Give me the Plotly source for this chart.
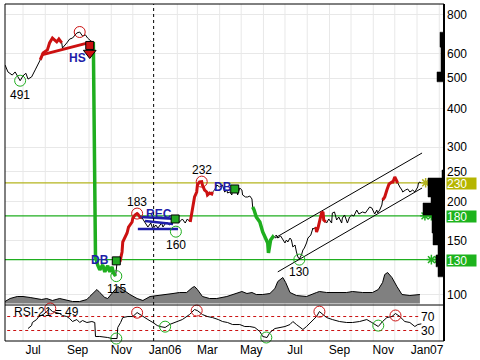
import math
import plotly.graph_objects as go

FONT = "Liberation Sans, Arial, sans-serif"

# ---------------- price series (close) ----------------
price_dates = [
 "2005-06-06","2005-06-10","2005-06-16","2005-06-20","2005-06-24","2005-06-27","2005-07-01","2005-07-05",
 "2005-07-08","2005-07-13","2005-07-18","2005-07-22","2005-07-25","2005-07-29","2005-08-04","2005-08-07",
 "2005-08-11","2005-08-17","2005-08-20","2005-08-24","2005-08-25","2005-08-31","2005-09-04","2005-09-08",
 "2005-09-14","2005-09-18","2005-09-22","2005-09-26","2005-09-29","2005-10-05","2005-10-07","2005-10-10",
 "2005-10-13","2005-10-16","2005-10-20","2005-10-23","2005-10-27","2005-10-30","2005-11-02","2005-11-04",
 "2005-11-07","2005-11-09","2005-11-13","2005-11-16","2005-11-17","2005-11-23","2005-11-25","2005-11-30",
 "2005-12-01","2005-12-04","2005-12-07","2005-12-08","2005-12-11","2005-12-14","2005-12-18","2005-12-22",
 "2005-12-26","2005-12-29","2006-01-02","2006-01-05","2006-01-10","2006-01-12","2006-01-17","2006-01-21",
 "2006-01-26","2006-01-31","2006-02-04","2006-02-08","2006-02-12","2006-02-15","2006-02-19","2006-02-22",
 "2006-02-25","2006-02-28","2006-03-01","2006-03-04","2006-03-07","2006-03-08","2006-03-11","2006-03-14",
 "2006-03-15","2006-03-18","2006-03-21","2006-03-22","2006-03-25","2006-03-28","2006-04-01","2006-04-05",
 "2006-04-08","2006-04-11","2006-04-12","2006-04-15","2006-04-18","2006-04-19","2006-04-22","2006-04-25",
 "2006-04-26","2006-04-29","2006-05-02","2006-05-03","2006-05-07","2006-05-10","2006-05-13","2006-05-16",
 "2006-05-17","2006-05-19","2006-05-22","2006-05-27","2006-05-31","2006-06-03","2006-06-06","2006-06-07",
 "2006-06-08","2006-06-11","2006-06-14","2006-06-15","2006-06-19","2006-06-21","2006-06-25","2006-06-28",
 "2006-07-01","2006-07-03","2006-07-05","2006-07-08","2006-07-10","2006-07-12","2006-07-15","2006-07-17",
 "2006-07-19","2006-07-21","2006-07-24","2006-07-26","2006-07-28","2006-07-31","2006-08-02","2006-08-06",
 "2006-08-09","2006-08-10","2006-08-13","2006-08-14","2006-08-16","2006-08-18","2006-08-21","2006-08-23",
 "2006-08-24","2006-08-27","2006-08-28","2006-08-31","2006-09-04","2006-09-05","2006-09-08","2006-09-11",
 "2006-09-14","2006-09-18","2006-09-19","2006-09-22","2006-09-25","2006-09-26","2006-09-29","2006-10-02",
 "2006-10-05","2006-10-08","2006-10-09","2006-10-12","2006-10-16","2006-10-17","2006-10-21","2006-10-24",
 "2006-10-27","2006-10-30","2006-10-31","2006-11-03","2006-11-06","2006-11-07","2006-11-10","2006-11-13",
 "2006-11-14","2006-11-17","2006-11-20","2006-11-21","2006-11-23","2006-11-27","2006-11-28","2006-12-01",
 "2006-12-04","2006-12-05","2006-12-08","2006-12-11","2006-12-12","2006-12-16","2006-12-19","2006-12-22",
 "2006-12-26","2006-12-29","2007-01-02","2007-01-03","2007-01-05","2007-01-06"]
price_values = [
 552,524,512,524,505,491,509,519,
 497,505,532,552,573,603,617,650,
 674,655,669,650,626,650,669,674,
 700,705,684,690,674,655,655,132.6,
 125.0,120.5,125.0,118.7,124.1,118.7,123.2,117.8,
 115,126.9,127.8,137.6,148.2,158.4,165.6,171.9,
 177.1,181,183,182.4,178.4,177.1,171.9,165.6,
 170.6,163.2,168.1,164.4,170.6,165.6,171.9,168.1,
 171.9,174.5,171.9,175.8,170.6,175.8,171.9,192.2,
 207,214.8,226.3,231.4,232,226.3,218,214.8,
 210.1,213.2,211.6,214.8,218,226.3,223,226.3,
 214.8,218,213.2,214.8,210.1,221.3,219.7,218,
 210.1,221.3,218,210.1,207,207,208.5,204,
 192.2,187.9,178.4,171.9,159.6,153.8,150.4,147.1,
 136.6,150.4,153.8,152.6,156.1,152.6,154.9,150.4,
 147.1,150.4,148.2,152.6,150.4,142.8,144.9,137.6,
 132.6,130.7,134.6,139.6,141.7,147.1,152.6,156.1,
 164.4,163.2,165.6,159.6,164.4,171.9,183.8,185.2,
 174.5,171.9,170.6,175.8,170.6,183.8,185.2,174.5,
 178.4,170.6,177.1,181.1,171.9,170.6,178.4,181.1,
 179.7,185.2,187.9,182.4,183.8,185.2,183.8,187.9,
 192.2,190.8,187.9,182.4,187.9,183.8,187.9,195,
 202.4,207,218,223,228,231.4,229.7,240.2,
 231.4,229.7,223,218,214.8,218,219.7,214.8,
 218,214.8,223,229.7,231.4,229.7]

red_segments = [("2005-07-25", "2005-08-24"), ("2005-11-13", "2005-12-14"),
                ("2006-02-19", "2006-03-22"), ("2006-08-13", "2006-08-27"),
                ("2006-11-14", "2006-12-05")]
green_segments = [("2005-10-07", "2005-11-07"), ("2006-05-17", "2006-06-15")]

# ---------------- volume ----------------
volume_dates = [
 "2005-06-06","2005-06-13","2005-06-23","2005-07-01","2005-07-11","2005-07-20","2005-07-27","2005-08-03",
 "2005-08-11","2005-08-21","2005-08-31","2005-09-08","2005-09-18","2005-09-28","2005-10-02","2005-10-12",
 "2005-10-16","2005-10-23","2005-10-27","2005-11-03","2005-11-10","2005-11-17","2005-11-27","2005-12-07",
 "2005-12-15","2005-12-25","2006-01-08","2006-01-18","2006-01-26","2006-02-04","2006-02-14","2006-02-22",
 "2006-02-25","2006-03-01","2006-03-08","2006-03-18","2006-03-28","2006-04-11","2006-04-25","2006-05-02",
 "2006-05-09","2006-05-16","2006-05-22","2006-05-31","2006-06-10","2006-06-17","2006-06-21","2006-06-28",
 "2006-07-02","2006-07-08","2006-07-17","2006-07-31","2006-08-14","2006-08-18","2006-08-28","2006-09-11",
 "2006-09-25","2006-10-03","2006-10-17","2006-10-31","2006-11-08","2006-11-14","2006-11-17","2006-11-21",
 "2006-11-27","2006-12-04","2006-12-11","2006-12-22","2007-01-05"]
volume_values = [
 2,5,7,7,6,5,4,5,
 3,5,3,2,2,4,7,14,
 11,6,5,11,17,14,9,5,
 3,7,8,9,10,11,11,16,
 17,14,7,5,5,7,10,12,
 10,11,9,9,10,15,22,26,
 21,11,8,7,11,12,11,11,
 11,12,11,11,14,21,29,31,
 26,17,9,8,9]

# ---------------- RSI-21 ----------------
rsi_dates = [
 "2005-07-08","2005-07-13","2005-07-14","2005-07-20","2005-07-23","2005-07-29","2005-08-03","2005-08-07",
 "2005-08-11","2005-08-15","2005-08-21","2005-08-25","2005-08-31","2005-09-04","2005-09-08","2005-09-14",
 "2005-09-18","2005-09-22","2005-09-28","2005-10-05","2005-10-09","2005-10-10","2005-10-16","2005-10-27",
 "2005-11-02","2005-11-09","2005-11-10","2005-11-14","2005-11-17","2005-11-24","2005-12-01","2005-12-07",
 "2005-12-11","2005-12-15","2005-12-22","2005-12-29","2006-01-04","2006-01-08","2006-01-15","2006-01-21",
 "2006-01-31","2006-02-08","2006-02-18","2006-02-25","2006-03-01","2006-03-08","2006-03-15","2006-03-22",
 "2006-03-30","2006-04-05","2006-04-12","2006-04-19","2006-04-29","2006-05-06","2006-05-13","2006-05-20",
 "2006-05-27","2006-05-31","2006-06-06","2006-06-10","2006-06-17","2006-06-24","2006-07-01","2006-07-08",
 "2006-07-12","2006-07-17","2006-07-21","2006-07-26","2006-07-31","2006-08-07","2006-08-14","2006-08-18",
 "2006-08-23","2006-08-28","2006-09-05","2006-09-15","2006-09-25","2006-10-03","2006-10-13","2006-10-23",
 "2006-10-30","2006-11-03","2006-11-08","2006-11-14","2006-11-20","2006-11-27","2006-12-02","2006-12-08",
 "2006-12-15","2006-12-22","2006-12-29","2007-01-02","2007-01-07"]
rsi_values = [
 35.7,44.3,52.9,61.4,70,75.7,84.3,92,
 84.3,81.4,78.6,72.9,70,64.3,55.7,61.4,
 52.9,58.6,52.9,55.7,52.9,12.9,12.9,10,
 7.1,7.1,38.6,52.9,67.1,70,70,81.4,
 75.7,70,61.4,52.9,44.3,41.4,38.6,47.1,
 55.7,61.4,75.7,90,87,75.7,70,67.1,
 61.4,55.7,52.9,47.1,47.1,41.4,41.4,38.6,
 27.1,12.9,10,24.3,35.7,38.6,41.4,47.1,
 55.7,47.1,41.4,32.9,41.4,55.7,70,84.3,
 75.7,67.1,61.4,55.7,52.9,52.9,55.7,61.4,
 52.9,47.1,41.4,55.7,67.1,70,78.6,70,
 55.7,52.9,41.4,47.1,49]
rsi_bands = [70, 30]
rsi_band_dates = ["2005-06-09", "2007-01-05"]
rsi_high_dates = ["2005-08-08", "2005-12-07", "2006-02-28", "2006-08-18", "2006-12-02"]
rsi_high_values = [93, 81, 87, 84, 73]
rsi_low_dates = ["2005-11-08", "2006-01-15", "2006-06-05", "2006-11-08"]
rsi_low_values = [7, 41, 10, 44]

# ---------------- swing points ----------------
swing_high_dates = ["2005-09-18", "2005-12-07", "2006-03-07"]
swing_high_values = [705, 183, 232]
swing_low_dates = ["2005-06-27", "2005-11-08", "2006-01-30", "2006-07-21"]
swing_low_values = [491, 115, 160, 130]
swing_label_dates = ["2005-06-27", "2005-11-08", "2005-12-07", "2006-01-30", "2006-03-07", "2006-07-21"]
swing_label_values = [491, 115, 183, 160, 232, 130]
swing_label_shift = [-14, -13, 12, -13, 12, -12]

# ---------------- support / resistance levels ----------------
levels = [230, 180, 130]
level_colors = ["#b4b41e", "#1fae1f", "#1fae1f"]
level_box_colors = ["#b5b500", "#1db31d", "#1db31d"]
level_star_dates = [["2007-01-13", "2007-01-21", "2007-01-30"],
                    ["2007-01-12", "2007-01-21", "2007-01-30"],
                    ["2007-01-21", "2007-01-30"]]

# ---------------- volume-at-price profile ----------------
vp_low = [114.4, 123.2, 134.6, 145, 158.4, 181, 198, 207, 238.4, 487, 524, 630]
vp_high = [123.2, 134.6, 145, 158.4, 181, 198, 207, 238.4, 253, 524, 630, 704]
vp_volume = [6, 8, 6, 11, 12, 21, 13, 16, 2, 7, 3, 4]

# ---------------- pattern drawings ----------------
channel_upper = (["2006-06-17", "2007-01-08"], [152.6, 287])
channel_lower = (["2006-06-21", "2007-01-08"], [118.7, 221.3])
hs_neckline = (["2005-07-27", "2005-10-05"], [595, 655])
rec_lines = [(["2005-12-11", "2006-02-02"], [178.4, 175.8]),
             (["2005-12-18", "2006-01-26"], [173.2, 169.4]),
             (["2005-12-08", "2006-02-02"], [163.2, 163.2])]
breakout_dates = ["2005-11-08", "2006-01-29", "2006-04-22"]
breakout_values = [128.8, 175.8, 219.7]
hs_arrow_date = "2005-10-02"
hs_arrow_values = [638, 603]
pattern_names = ["HS", "DB", "REC", "DB"]
pattern_dates = ["2005-09-15", "2005-10-16", "2006-01-06", "2006-04-05"]
pattern_values = [581, 129.7, 182.4, 223]

month_tick_dates = ["2005-07-15", "2005-09-15", "2005-11-15", "2006-01-15", "2006-03-15",
                    "2006-05-15", "2006-07-15", "2006-09-15", "2006-11-15", "2007-01-15"]
month_tick_text = ["Jul", "Sep", "Nov", "Jan06", "Mar", "May", "Jul", "Sep", "Nov", "Jan07"]
month_grid_dates = ["2005-07-01", "2005-08-01", "2005-09-01", "2005-10-01", "2005-11-01",
                    "2005-12-01", "2006-02-01", "2006-03-01", "2006-04-01", "2006-05-01",
                    "2006-06-01", "2006-07-01", "2006-08-01", "2006-09-01", "2006-10-01",
                    "2006-11-01", "2006-12-01", "2007-01-01", "2007-02-01"]
price_ticks = [100, 150, 200, 250, 300, 400, 500, 600, 800]

X_RANGE = ["2005-06-05 22:00", "2007-02-07 14:00"]
RED = "#cc1111"
GREEN = "#1fae1f"
BLUE = "#1e1ea8"

fig = go.Figure()

# volume area (bottom of price panel)
fig.add_trace(go.Scatter(x=volume_dates, y=volume_values, xaxis="x", yaxis="y3",
                         mode="lines", line=dict(color="black", width=1),
                         fill="tozeroy", fillcolor="#808080", hoverinfo="skip"))

# level lines
for lv, col in zip(levels, level_colors):
    fig.add_trace(go.Scatter(x=["2005-05-01", "2007-03-01"], y=[lv, lv], mode="lines",
                             line=dict(color=col, width=1.3), xaxis="x", yaxis="y"))

# volume-at-price profile
vx, vy = [0], [vp_low[0]]
for i in range(len(vp_low)):
    if i > 0 and abs(vp_low[i] - vp_high[i - 1]) > 1e-6:
        vx += [0, 0]
        vy += [vp_high[i - 1], vp_low[i]]
    vx += [vp_volume[i], vp_volume[i]]
    vy += [vp_low[i], vp_high[i]]
vx.append(0)
vy.append(vp_high[-1])
fig.add_trace(go.Scatter(x=vx, y=vy, xaxis="x2", yaxis="y", mode="lines",
                         line=dict(color="black", width=0.5), fill="toself", fillcolor="black"))

# channel
for xs, ys in (channel_upper, channel_lower):
    fig.add_trace(go.Scatter(x=xs, y=ys, mode="lines", line=dict(color="black", width=1)))

# price line
fig.add_trace(go.Scatter(x=price_dates, y=price_values, mode="lines",
                         line=dict(color="black", width=1)))

def segment(start, end):
    xs, ys = [], []
    for d, v in zip(price_dates, price_values):
        if start <= d <= end:
            xs.append(d)
            ys.append(v)
    return xs, ys

for s, e in red_segments:
    xs, ys = segment(s, e)
    fig.add_trace(go.Scatter(x=xs, y=ys, mode="lines", line=dict(color=RED, width=3)))
for s, e in green_segments:
    xs, ys = segment(s, e)
    fig.add_trace(go.Scatter(x=xs, y=ys, mode="lines", line=dict(color=GREEN, width=3.5)))

# HS neckline and arrow
fig.add_trace(go.Scatter(x=hs_neckline[0], y=hs_neckline[1], mode="lines",
                         line=dict(color=RED, width=3)))
fig.add_trace(go.Scatter(x=[hs_arrow_date], y=[hs_arrow_values[0]], mode="markers",
                         marker=dict(symbol="square", size=8, color=RED,
                                     line=dict(color="black", width=1))))
fig.add_trace(go.Scatter(x=[hs_arrow_date], y=[hs_arrow_values[1]], mode="markers",
                         marker=dict(symbol="triangle-down", size=11, color=RED,
                                     line=dict(color="black", width=1))))

# rectangle pattern lines
for xs, ys in rec_lines:
    fig.add_trace(go.Scatter(x=xs, y=ys, mode="lines", line=dict(color=BLUE, width=2.5)))

# breakout squares
fig.add_trace(go.Scatter(x=breakout_dates, y=breakout_values, mode="markers",
                         marker=dict(symbol="square", size=8, color="#22a822",
                                     line=dict(color="black", width=1))))

# swing circles
fig.add_trace(go.Scatter(x=swing_high_dates, y=swing_high_values, mode="markers",
                         marker=dict(symbol="circle-open", size=11, color=RED,
                                     line=dict(width=1))))
fig.add_trace(go.Scatter(x=swing_low_dates, y=swing_low_values, mode="markers",
                         marker=dict(symbol="circle-open", size=11, color=GREEN,
                                     line=dict(width=1))))

# level stars
for lv, col, ds in zip(levels, level_colors, level_star_dates):
    fig.add_trace(go.Scatter(x=ds, y=[lv] * len(ds), mode="markers", cliponaxis=False,
                             marker=dict(symbol="asterisk-open", size=8, color=col,
                                         line=dict(color=col, width=1.5))))

# RSI panel
for b in rsi_bands:
    fig.add_trace(go.Scatter(x=rsi_band_dates, y=[b, b], xaxis="x", yaxis="y2", mode="lines",
                             line=dict(color=RED, width=1, dash="dot")))
fig.add_trace(go.Scatter(x=rsi_dates, y=rsi_values, xaxis="x", yaxis="y2", mode="lines",
                         line=dict(color="black", width=1)))
fig.add_trace(go.Scatter(x=rsi_high_dates, y=rsi_high_values, xaxis="x", yaxis="y2",
                         mode="markers", cliponaxis=False,
                         marker=dict(symbol="circle-open", size=11, color=RED, line=dict(width=1))))
fig.add_trace(go.Scatter(x=rsi_low_dates, y=rsi_low_values, xaxis="x", yaxis="y2",
                         mode="markers", cliponaxis=False,
                         marker=dict(symbol="circle-open", size=11, color=GREEN, line=dict(width=1))))

annotations = []
for d, v, sh in zip(swing_label_dates, swing_label_values, swing_label_shift):
    annotations.append(dict(x=d, y=math.log10(v), xref="x", yref="y", text=str(v),
                            showarrow=False, yshift=sh, font=dict(size=12, color="black")))
for name, d, v in zip(pattern_names, pattern_dates, pattern_values):
    annotations.append(dict(x=d, y=math.log10(v), xref="x", yref="y", text="<b>%s</b>" % name,
                            showarrow=False, font=dict(size=12, color=BLUE)))
for lv, bc in zip(levels, level_box_colors):
    annotations.append(dict(x=1, y=math.log10(lv), xref="paper", yref="y", text=str(lv),
                            showarrow=False, xanchor="left", xshift=2, yshift=-1, bgcolor=bc,
                            width=29, height=11, align="left", borderpad=0,
                            font=dict(size=12, color="white")))
for b in rsi_bands:
    annotations.append(dict(x=1, y=b, xref="paper", yref="y2", text=str(b), showarrow=False,
                            xanchor="right", xshift=-7, font=dict(size=12, color="black")))
annotations.append(dict(x=0.016, y=84, xref="paper", yref="y2",
                        text="RSI-21 = %d" % round(rsi_values[-1]), showarrow=False,
                        xanchor="left", font=dict(size=12, color="black")))

SPLIT = 36 / 337.0
shapes = []
for g in month_grid_dates:
    shapes.append(dict(type="line", xref="x", yref="paper", x0=g, x1=g, y0=0, y1=1,
                       layer="below", line=dict(color="#e8e8e8", width=1)))
shapes += [
    dict(type="rect", xref="paper", yref="paper", x0=0, x1=1, y0=0, y1=1,
         line=dict(color="black", width=1)),
    dict(type="line", xref="paper", yref="paper", x0=0, x1=1, y0=SPLIT, y1=SPLIT,
         line=dict(color="black", width=1)),
    dict(type="line", xref="paper", yref="paper", x0=1, x1=1, y0=0, y1=1,
         line=dict(color="black", width=2)),
    dict(type="line", xref="x", yref="paper", x0="2005-12-30", x1="2005-12-30", y0=0, y1=1,
         line=dict(color="black", width=1, dash="dot")),
]

fig.update_layout(
    width=480, height=360, margin=dict(l=5, r=36, t=4, b=19),
    paper_bgcolor="white", plot_bgcolor="white", showlegend=False,
    font=dict(family=FONT, size=12, color="black"),
    xaxis=dict(type="date", range=X_RANGE, domain=[0, 1], anchor="y2",
               tickvals=month_tick_dates, ticktext=month_tick_text, showgrid=False,
               ticks="", zeroline=False, showline=False),
    xaxis2=dict(overlaying="x", range=[439, 0], visible=False),
    yaxis=dict(type="log", domain=[SPLIT, 1], anchor="x", side="right",
               range=[math.log10(92.8), math.log10(868)],
               tickvals=price_ticks, ticktext=[str(t) for t in price_ticks],
               showgrid=True, gridcolor="#e8e8e8", gridwidth=1, ticks="", zeroline=False,
               ticklabelstandoff=2),
    yaxis2=dict(domain=[0, SPLIT], anchor="x", range=[0, 103], showgrid=False,
                showticklabels=False, zeroline=False, ticks=""),
    yaxis3=dict(overlaying="y", range=[-1.5, 299.5], visible=False),
    annotations=annotations, shapes=shapes,
)

fig.write_html("out.html", config={"displayModeBar": False},
               post_script="document.body.style.margin='0';document.body.style.padding='0';")
